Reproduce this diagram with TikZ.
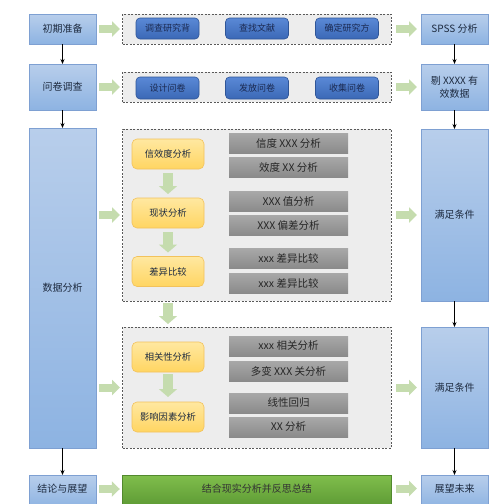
\documentclass[tikz,border=0pt]{standalone}
\usepackage{fontspec}
\setmainfont{Noto Sans CJK SC}
\usetikzlibrary{arrows.meta}
\definecolor{bluetop}{HTML}{B8CEEB}
\definecolor{bluebot}{HTML}{8DB3E2}
\definecolor{blueline}{HTML}{7EA0D2}
\definecolor{btntop}{HTML}{5A89D6}
\definecolor{btnbot}{HTML}{3B68B6}
\definecolor{btnline}{HTML}{2F5597}
\definecolor{btntext}{HTML}{1B2A52}
\definecolor{paneltop}{HTML}{EDEDED}
\definecolor{panelline}{HTML}{595959}
\definecolor{yeltop}{HTML}{FFE8A0}
\definecolor{yelbot}{HTML}{FFD562}
\definecolor{yelline}{HTML}{F2C25C}
\definecolor{graytop}{HTML}{A8A8A8}
\definecolor{graybot}{HTML}{8A8A8A}
\definecolor{greentop}{HTML}{80BE4C}
\definecolor{greenbot}{HTML}{5B9833}
\definecolor{arrowgreen}{HTML}{C5DCAE}
\definecolor{textdark}{HTML}{1E2B40}
\tikzset{
  colbox/.style={shade, top color=bluetop, bottom color=bluebot, draw=blueline, line width=0.6pt,
    minimum width=67pt, inner sep=1pt, outer sep=0pt, font=\fontsize{10}{13}\selectfont, text=textdark, align=center},
  panel/.style={fill=paneltop, draw=panelline, dashed, dash pattern=on 2pt off 1.5pt, line width=0.7pt,
    minimum width=268.5pt, inner sep=0pt, outer sep=0pt},
  btn/.style={shade, top color=btntop, bottom color=btnbot, draw=btnline, line width=0.6pt, rounded corners=4pt,
    minimum width=63pt, minimum height=21pt, inner sep=0pt, font=\fontsize{9}{10}\selectfont, text=btntext},
  yel/.style={shade, top color=yeltop, bottom color=yelbot, draw=yelline, line width=0.6pt, rounded corners=5pt,
    minimum width=72pt, minimum height=30pt, inner sep=0pt, outer sep=0pt, font=\fontsize{9.3}{11}\selectfont, text=textdark},
  grayb/.style={shade, top color=graytop, bottom color=graybot, minimum width=119pt, minimum height=20pt,
    inner sep=0pt, font=\fontsize{10.5}{12}\selectfont, text=black!85},
  greenbar/.style={shade, top color=greentop, bottom color=greenbot, draw=greenbot!90!black, line width=0.4pt,
    minimum width=268.5pt, minimum height=33pt, inner sep=0pt, font=\fontsize{10}{12}\selectfont, text=black!80},
  harrow/.style={draw=arrowgreen, line width=8pt, -{Triangle[length=8pt,width=15pt]}},
  varrow/.style={draw=arrowgreen, line width=10pt, -{Triangle[length=8pt,width=18pt]}},
  blk/.style={draw=black, line width=0.8pt, -{Stealth[length=5pt,width=4pt]}}
}
\begin{document}
\begin{tikzpicture}[x=1pt,y=-1pt]
\useasboundingbox (0,0) rectangle (500,504);
\clip (0,0) rectangle (500,504);
% left column
\node[colbox, minimum height=30pt] (b1) at (62.5,29) {初期准备};
\node[colbox, minimum height=46pt] (b2) at (62.5,87) {问卷调查};
\node[colbox, minimum height=320pt] (b3) at (62.5,288) {数据分析};
\node[colbox, minimum height=33pt] (b4) at (62.5,491.5) {};
\node[font=\fontsize{10}{12}\selectfont, text=textdark] (b4t) at (62.5,489) {结论与展望};
% right column
\node[colbox, minimum height=30pt] (r1) at (454.5,29) {SPSS 分析};
\node[colbox, minimum height=46pt] (r2) at (454.5,87) {剔 XXXX 有\\效数据};
\node[colbox, minimum height=172pt] (r3) at (454.5,215) {满足条件};
\node[colbox, minimum height=121pt] (r4) at (454.5,387.5) {满足条件};
\node[colbox, minimum height=33pt] (r5) at (454.5,491.5) {};
\node[font=\fontsize{10}{12}\selectfont, text=textdark] (r5t) at (454.5,488.5) {展望未来};
% panels
\node[panel, minimum height=30pt] (p1) at (256.75,29) {};
\node[panel, minimum height=30pt] (p2) at (256.75,87) {};
\node[panel, minimum height=172pt] (p3) at (256.75,215) {};
\node[panel, minimum height=121pt] (p4) at (256.75,387.5) {};
\node[greenbar] (g) at (256.75,491.5) {};
\node[font=\fontsize{10}{12}\selectfont, text=black!80] (gt) at (256.75,489) {结合现实分析并反思总结};
% buttons
\node[btn] (u1) at (167.5,28.5) {调查研究背};
\node[btn] (u2) at (257,28.5) {查找文献};
\node[btn] (u3) at (347,28.5) {确定研究方};
\node[btn, minimum height=22pt] (v1) at (167.5,88) {设计问卷};
\node[btn, minimum height=22pt] (v2) at (257,88) {发放问卷};
\node[btn, minimum height=22pt] (v3) at (347,88) {收集问卷};
% yellow
\node[yel] (y1) at (168,154) {信效度分析};
\node[yel] (y2) at (168,213) {现状分析};
\node[yel] (y3) at (168,271.5) {差异比较};
\node[yel] (y4) at (168,357) {相关性分析};
\node[yel] (y5) at (168,417) {影响因素分析};
% gray
\node[grayb] (g1) at (288.5,143) {信度 XXX 分析};
\node[grayb] (g2) at (288.5,167) {效度 XX 分析};
\node[grayb] (g3) at (288.5,201.5) {XXX 值分析};
\node[grayb] (g4) at (288.5,225.5) {XXX 偏差分析};
\node[grayb] (g5) at (288.5,258.5) {xxx 差异比较};
\node[grayb] (g6) at (288.5,283) {xxx 差异比较};
\node[grayb] (g7) at (288.5,346) {xxx 相关分析};
\node[grayb] (g8) at (288.5,371) {多变 XXX 关分析};
\node[grayb] (g9) at (288.5,403) {线性回归};
\node[grayb] (g10) at (288.5,427) {XX 分析};
% black arrows
\draw[blk] (b1.south) -- (b2.north);
\draw[blk] (b2.south) -- (b3.north);
\draw[blk] (b3.south) -- (b4.north);
\draw[blk] (r1.south) -- (r2.north);
\draw[blk] (r2.south) -- (r3.north);
\draw[blk] (r3.south) -- (r4.north);
\draw[blk] (r4.south) -- (r5.north);
% green horizontal arrows
\draw[harrow, shorten <=3pt, shorten >=2.5pt] (b1.east) -- (p1.west);
\draw[harrow, shorten <=3pt, shorten >=2.5pt] (b2.east) -- (p2.west);
\draw[harrow, shorten <=3pt, shorten >=2.5pt] (b3.east |- p3.west) -- (p3.west);
\draw[harrow, shorten <=3pt, shorten >=2.5pt] (b3.east |- p4.west) -- (p4.west);
\draw[harrow, shorten <=3pt, shorten >=2.5pt] (b4.east |- gt) -- (g.west |- gt);
\draw[harrow, shorten <=5pt, shorten >=4pt] (p1.east) -- (r1.west);
\draw[harrow, shorten <=5pt, shorten >=4pt] (p2.east) -- (r2.west);
\draw[harrow, shorten <=5pt, shorten >=4pt] (p3.east) -- (r3.west |- p3.east);
\draw[harrow, shorten <=5pt, shorten >=4pt] (p4.east) -- (r4.west |- p4.east);
\draw[harrow, shorten <=5pt, shorten >=4pt] (g.east |- r5t) -- (r5.west |- r5t);
% green down arrows
\draw[varrow, shorten <=4pt, shorten >=4pt] (y1.south) -- (y2.north);
\draw[varrow, shorten <=4pt, shorten >=4pt] (y2.south) -- (y3.north);
\draw[varrow, shorten <=2pt, shorten >=3pt] (y3.south |- p3.south) -- (y4.north |- p4.north);
\draw[varrow, shorten <=2pt, shorten >=5pt] (y4.south) -- (y5.north);
\end{tikzpicture}
\end{document}
